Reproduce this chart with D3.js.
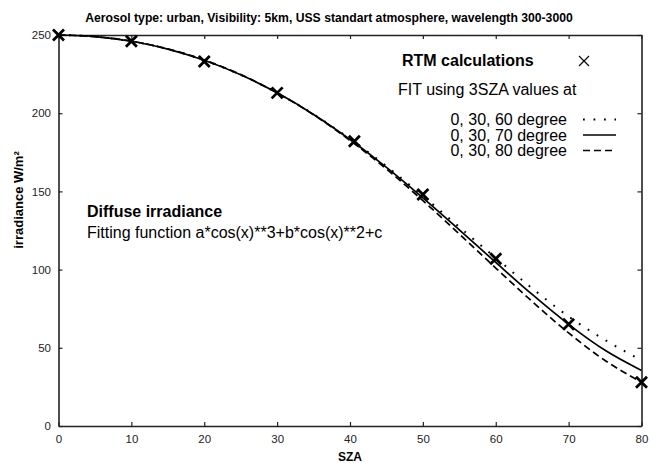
<!DOCTYPE html>
<html><head><meta charset="utf-8">
<script src="https://cdn.jsdelivr.net/npm/d3@7"></script>
<style>
html,body{margin:0;padding:0;background:#fff;}
svg{display:block;font-family:"Liberation Sans",Arial,Helvetica,sans-serif;}
</style></head>
<body>
<svg id="chart" width="650" height="463"></svg>
<script>
// RTM calculations (SZA in degrees, irradiance W/m²)
const rtmSza = [0, 10, 20, 30, 40.6, 50, 60, 70, 80];
const rtmVal = [250, 246, 233, 213, 182, 148, 107, 65, 28];

// Fit curves at 5° steps
const fitSza = [0,5,10,15,20,25,30,35,40,45,50,55,60,65,70,75,80];
const fit60 = [250,249,246,241,233.8,224.5,213,199.3,183.6,166.1,147.1,127.2,107.5,88,70,55,42];
const fit70 = [250,249,246,241,233.9,224.6,213,199.2,183.2,165.4,145.9,125.4,104.6,84.1,65,48.4,35.5];
const fit80 = [250,249,246.1,241.1,234,224.7,213,199,182.6,164.3,144.1,122.8,101,79.6,59.5,41.9,28];

const xTicks = [0,10,20,30,40,50,60,70,80];
const yTicks = [0,50,100,150,200,250];

const legendLabels = ["0, 30, 60 degree", "0, 30, 70 degree", "0, 30, 80 degree"];
const legendDash = ["1.8,8.7", null, "7,4"];

const title = "Aerosol type: urban, Visibility: 5km, USS standart atmosphere, wavelength 300-3000";

const svg = d3.select("#chart");
const x = d3.scaleLinear().domain([0,80]).range([58.5,641.5]);
const y = d3.scaleLinear().domain([0,250]).range([426,35]);

const ink = "#000";

function styleAxis(g){
  g.selectAll(".domain").attr("stroke","#222").attr("stroke-width",1.6);
  g.selectAll(".tick line").attr("stroke","#222").attr("stroke-width",1.2);
  g.selectAll(".tick text").attr("fill","#222").style("font-size","11.5px");
}
svg.append("g").attr("transform","translate(0,426)")
  .call(d3.axisBottom(x).tickValues(xTicks).tickSizeInner(-4).tickSizeOuter(0).tickPadding(9))
  .call(styleAxis);
svg.append("g").attr("transform","translate(0,35)")
  .call(d3.axisTop(x).tickValues(xTicks).tickSizeInner(-4).tickSizeOuter(0).tickFormat(""))
  .call(styleAxis);
svg.append("g").attr("transform","translate(58.5,0)")
  .call(d3.axisLeft(y).tickValues(yTicks).tickSizeInner(-4).tickSizeOuter(0).tickPadding(7.5))
  .call(styleAxis);
svg.append("g").attr("transform","translate(641.5,0)")
  .call(d3.axisRight(y).tickValues(yTicks).tickSizeInner(-4).tickSizeOuter(0).tickFormat(""))
  .call(styleAxis);
svg.selectAll("g").attr("font-family",null);

// title and axis labels
svg.append("text").attr("x",329).attr("y",22).attr("text-anchor","middle")
  .style("font-size","12.2px").style("font-weight","bold").text(title);
svg.append("text").attr("transform","translate(23,200) rotate(-90)").attr("text-anchor","middle")
  .style("font-size","13px").style("font-weight","bold").text("irradiance W/m²");
svg.append("text").attr("x",350).attr("y",461).attr("text-anchor","middle")
  .style("font-size","12px").style("font-weight","bold").text("SZA");

// fit curves
const line = d3.line().x(d=>x(d[0])).y(d=>y(d[1])).curve(d3.curveMonotoneX);
const fits = [fit60, fit70, fit80];
fits.forEach((vals,i)=>{
  const p = svg.append("path")
    .attr("d", line(fitSza.map((s,j)=>[s, vals[j]])))
    .attr("fill","none").attr("stroke",ink)
    .attr("stroke-width", i===0 ? 2 : 1.7);
  if (legendDash[i]) p.attr("stroke-dasharray", legendDash[i]);
});

// RTM markers
const cross = "M-5.5,-5.5L5.5,5.5M-5.5,5.5L5.5,-5.5";
svg.append("g").selectAll("path").data(rtmSza.map((s,i)=>[s, rtmVal[i]])).join("path")
  .attr("transform", d=>`translate(${x(d[0])},${y(d[1])})`)
  .attr("d", cross).attr("stroke", ink).attr("stroke-width", 2.8).attr("fill","none");

// legend
svg.append("text").attr("x",402).attr("y",66).style("font-size","16px").style("font-weight","bold").text("RTM calculations");
svg.append("path").attr("transform","translate(584,61)").attr("d","M-5,-5L5,5M-5,5L5,-5")
  .attr("stroke",ink).attr("stroke-width",1.1);
svg.append("text").attr("x",398).attr("y",95).style("font-size","16px").text("FIT using 3SZA values at");
legendLabels.forEach((lab,i)=>{
  const base = 125 + i*15.5;
  svg.append("text").attr("x",567).attr("y",base).attr("text-anchor","end").style("font-size","16px").text(lab);
  const yy = base - 5.5;
  const l = svg.append("line").attr("x1",583).attr("x2",616).attr("y1",yy).attr("y2",yy)
    .attr("stroke",ink).attr("stroke-width", i===0 ? 2 : 1.7);
  if (legendDash[i]) l.attr("stroke-dasharray", legendDash[i]);
});

// annotation
svg.append("text").attr("x",87).attr("y",217).style("font-size","16px").style("font-weight","bold").text("Diffuse irradiance");
svg.append("text").attr("x",87).attr("y",238).style("font-size","16px").text("Fitting function a*cos(x)**3+b*cos(x)**2+c");
</script>
</body></html>
